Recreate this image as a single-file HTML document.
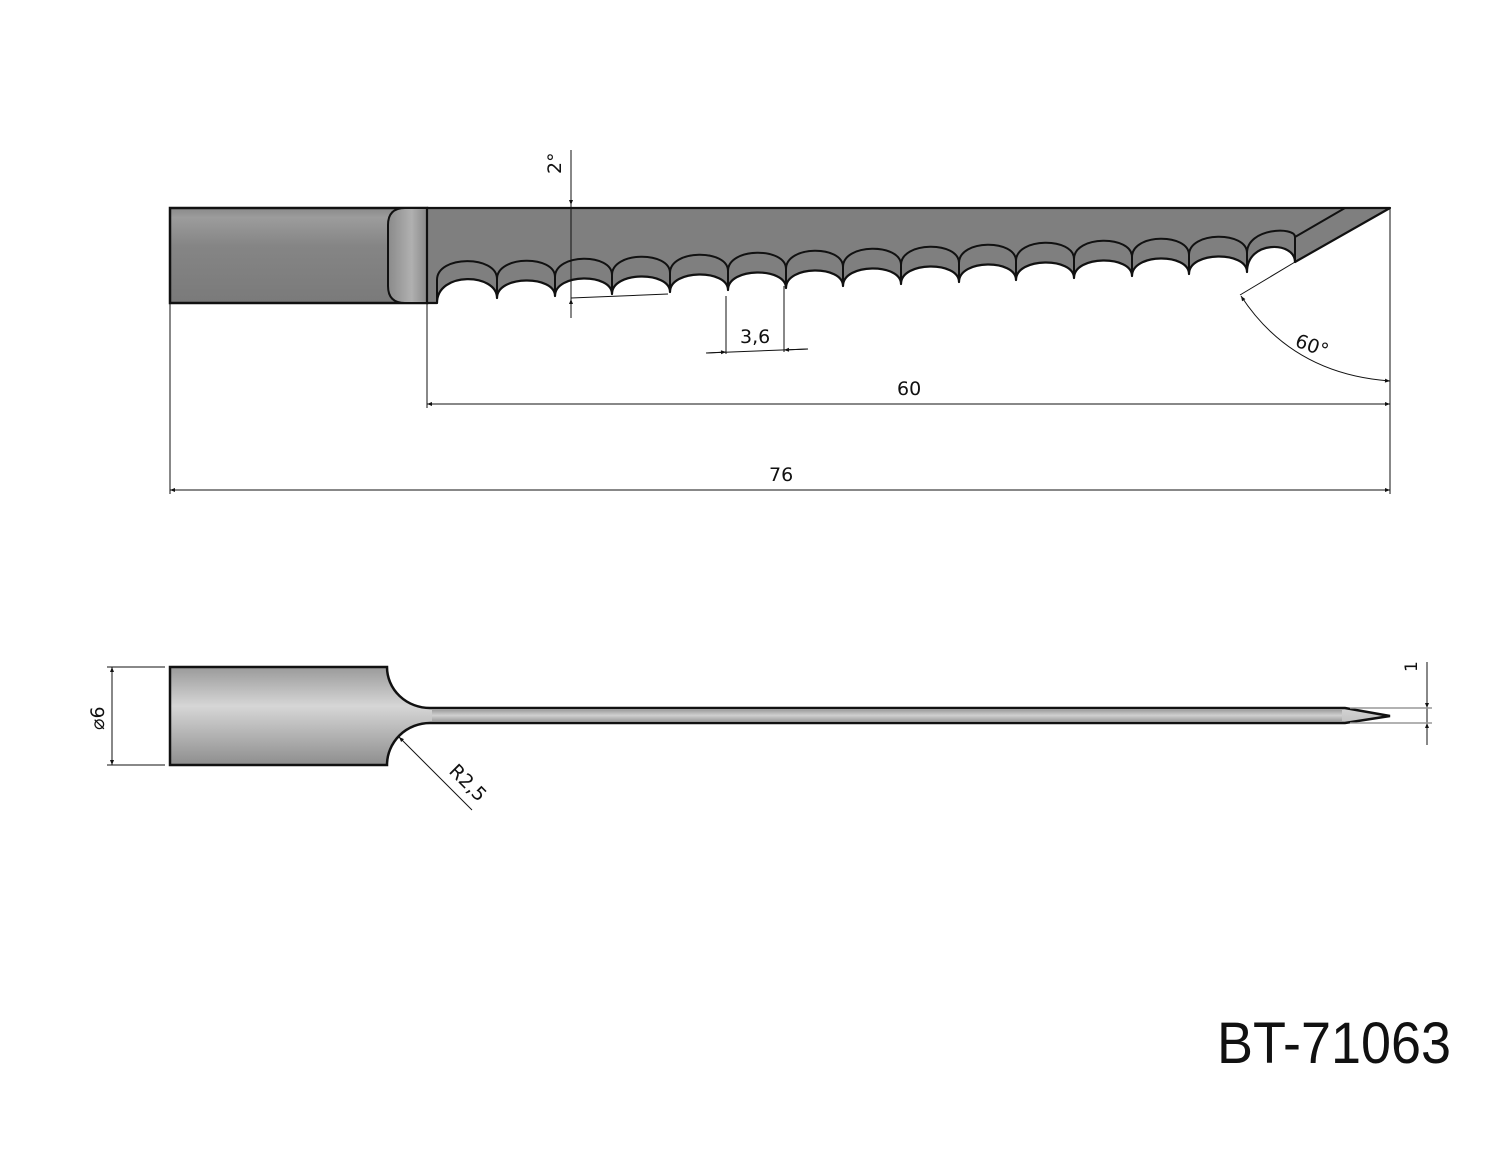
<!DOCTYPE html>
<html><head><meta charset="utf-8"><style>
html,body{margin:0;padding:0;background:#fff;}
svg{display:block;}
text{font-family:"DejaVu Sans","Liberation Sans",sans-serif;fill:#111;}
</style></head><body>
<svg width="1500" height="1159" viewBox="0 0 1500 1159" xmlns="http://www.w3.org/2000/svg">
<defs>
<linearGradient id="gh" x1="0" y1="0" x2="0" y2="1">
<stop offset="0" stop-color="#8a8a8a"/><stop offset="0.1" stop-color="#9c9c9c"/><stop offset="0.4" stop-color="#858585"/><stop offset="1" stop-color="#7a7a7a"/></linearGradient>
<linearGradient id="gr" x1="0" y1="0" x2="1" y2="0">
<stop offset="0" stop-color="#8a8a8a"/><stop offset="0.6" stop-color="#b0b0b0"/><stop offset="1" stop-color="#8a8a8a"/></linearGradient>
<linearGradient id="gb" x1="0" y1="0" x2="0" y2="1">
<stop offset="0" stop-color="#9a9a9a"/><stop offset="0.4" stop-color="#d6d6d6"/><stop offset="1" stop-color="#8e8e8e"/></linearGradient>
<linearGradient id="gs" x1="0" y1="0" x2="0" y2="1">
<stop offset="0" stop-color="#a0a0a0"/><stop offset="0.5" stop-color="#d0d0d0"/><stop offset="1" stop-color="#a0a0a0"/></linearGradient>
<marker id="a" viewBox="0 0 10 10" refX="10" refY="5" markerWidth="9" markerHeight="5" orient="auto-start-reverse" markerUnits="userSpaceOnUse"><path d="M0,1 L10,5 L0,9z" fill="#111"/></marker>
</defs>

<!-- top view handle -->
<rect x="170" y="208" width="257" height="95" fill="url(#gh)" stroke="#111" stroke-width="2.5"/>
<path d="M427,208 L405,208 Q388,208 388,225 L388,286 Q388,303 405,303 L427,303z" fill="url(#gr)" stroke="#111" stroke-width="2"/>

<!-- blade -->
<path d="M427,208 L1390,208 L1295,262 C1295,241 1247,240 1247,272
C1247,251 1189,251 1189,274
C1189,253 1132,253 1132,276
C1132,255 1074,255 1074,278
C1074,257 1016,257 1016,280
C1016,259 959,259 959,282
C959,261 901,261 901,284
C901,263 843,263 843,286
C843,265 786,265 786,288
C786,267 728,267 728,290
C728,269 670,269 670,292
C670,271 612,271 612,294
C612,273 555,273 555,296
C555,275 497,275 497,298
C497,273 437,271 437,303
L427,303z" fill="#7f7f7f" stroke="#111" stroke-width="2.2" stroke-linejoin="round"/>
<path fill="none" stroke="#111" stroke-width="2" d="
M437,280 C437,255 497,255 497,279
M497,279 C497,255 555,255 555,277
M555,277 C555,253 612,253 612,275
M612,275 C612,251 670,251 670,273
M670,273 C670,249 728,249 728,271
M728,271 C728,247 786,247 786,269
M786,269 C786,245 843,245 843,267
M843,267 C843,243 901,243 901,265
M901,265 C901,241 959,241 959,263
M959,263 C959,239 1016,239 1016,261
M1016,261 C1016,237 1074,237 1074,259
M1074,259 C1074,235 1132,235 1132,257
M1132,257 C1132,233 1189,233 1189,255
M1189,255 C1189,231 1247,231 1247,253
M1247,253 C1247,228 1295,226 1295,237
M497,279 L497,298 M555,277 L555,296 M612,275 L612,294 M670,273 L670,292 M728,271 L728,290
M786,269 L786,288 M843,267 L843,286 M901,265 L901,284 M959,263 L959,282 M1016,261 L1016,280
M1074,259 L1074,278 M1132,257 L1132,276 M1189,255 L1189,274 M1247,253 L1247,272
M437,280 L437,303 M1295,237 L1295,262 M1295,237 L1345,208"/>

<!-- dims top -->
<g stroke="#111" stroke-width="1" fill="none">
<line x1="571" y1="150" x2="571" y2="205" marker-end="url(#a)"/>
<line x1="571" y1="205" x2="571" y2="318"/>
<line x1="571" y1="318" x2="571" y2="299" marker-end="url(#a)"/>
<line x1="571" y1="298" x2="668" y2="294"/>
<line x1="726" y1="296" x2="726" y2="354"/>
<line x1="784" y1="286" x2="784" y2="352"/>
<line x1="707" y1="353" x2="726" y2="352" marker-end="url(#a)" />
<line x1="706" y1="353" x2="808" y2="349"/>
<line x1="808" y1="349" x2="784" y2="350" marker-end="url(#a)"/>
<line x1="427" y1="303" x2="427" y2="408"/>
<line x1="427" y1="404" x2="1390" y2="404" marker-start="url(#a)" marker-end="url(#a)"/>
<line x1="1390" y1="208" x2="1390" y2="494"/>
<line x1="170" y1="303" x2="170" y2="494"/>
<line x1="170" y1="490" x2="1390" y2="490" marker-start="url(#a)" marker-end="url(#a)"/>
<line x1="1295" y1="262" x2="1240" y2="295"/>
<path d="M1241,296 Q1292,374 1390,381" marker-start="url(#a)" marker-end="url(#a)"/>
</g>
<text x="0" y="0" font-size="19" transform="translate(561,174) rotate(-90)">2°</text>
<text x="740" y="343" font-size="19">3,6</text>
<text x="897" y="395" font-size="19">60</text>
<text x="769" y="481" font-size="19">76</text>
<text x="0" y="0" font-size="19" transform="translate(1294,346) rotate(20)">60°</text>

<!-- bottom view -->
<path d="M170,667 L387,667 A43,41 0 0 0 430,708 L1345,708 L1390,716 L1345,723 L430,723 A43,42 0 0 0 387,765 L170,765z" fill="url(#gb)" stroke="#111" stroke-width="2.5"/>
<rect x="432" y="710" width="910" height="11" fill="url(#gs)"/>
<g stroke="#111" stroke-width="1" fill="none">
<line x1="107" y1="667" x2="165" y2="667"/>
<line x1="107" y1="765" x2="165" y2="765"/>
<line x1="112" y1="667" x2="112" y2="765" marker-start="url(#a)" marker-end="url(#a)"/>
<line x1="472" y1="810" x2="399" y2="737" marker-end="url(#a)"/>
<line x1="1427" y1="662" x2="1427" y2="708" marker-end="url(#a)"/>
<line x1="1427" y1="745" x2="1427" y2="723" marker-end="url(#a)"/>
<line x1="1427" y1="708" x2="1427" y2="723"/>
</g>
<g stroke="#999" stroke-width="1.5"><line x1="1350" y1="708" x2="1432" y2="708"/><line x1="1350" y1="723" x2="1432" y2="723"/></g>
<text x="0" y="0" font-size="19" transform="translate(104,730) rotate(-90)">⌀6</text>
<text x="0" y="0" font-size="19" transform="translate(448,772) rotate(45)">R2,5</text>
<text x="0" y="0" font-size="17" transform="translate(1417,672) rotate(-90)">1</text>

<text x="1217" y="1063" font-size="58" textLength="234" lengthAdjust="spacingAndGlyphs" style="font-family:'Liberation Sans',sans-serif;">BT-71063</text>
</svg>
</body></html>
